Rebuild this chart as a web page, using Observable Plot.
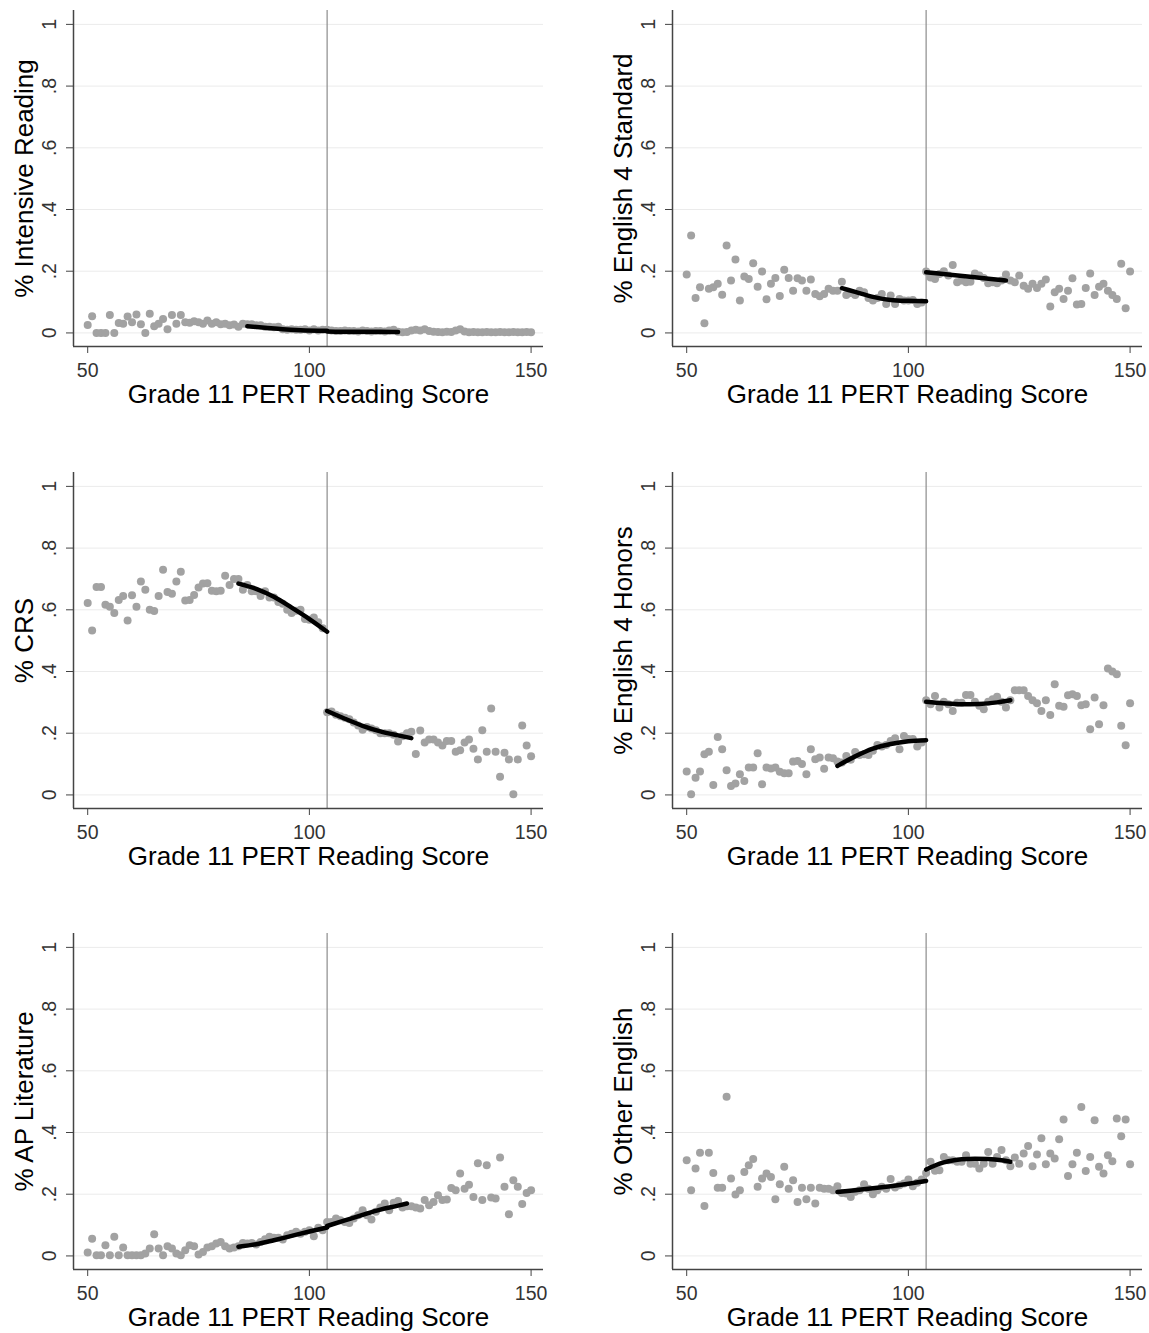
<!DOCTYPE html>
<html><head><meta charset="utf-8">
<script src="https://cdn.jsdelivr.net/npm/d3@7"></script>
<script src="https://cdn.jsdelivr.net/npm/@observablehq/plot@0.6"></script>
<style>
body{margin:0;background:#fff;}
#wrap{position:relative;width:1149px;height:1333px;overflow:hidden;background:#fff;}
#wrap svg{position:absolute;}
</style></head><body><div id="wrap"></div>
<script>
const scores = [50,51,52,53,54,55,56,57,58,59,60,61,62,63,64,65,66,67,68,69,70,71,72,73,74,75,76,77,78,79,80,81,82,83,84,85,86,87,88,89,90,91,92,93,94,95,96,97,98,99,100,101,102,103,104,105,106,107,108,109,110,111,112,113,114,115,116,117,118,119,120,121,122,123,124,125,126,127,128,129,130,131,132,133,134,135,136,137,138,139,140,141,142,143,144,145,146,147,148,149,150];

const intensiveReading = [0.026,0.054,0,0,0,0.058,0,0.032,0.030,0.053,0.035,0.060,0.028,0.000,0.062,0.022,0.030,0.045,0.012,0.058,0.030,0.058,0.035,0.033,0.038,0.035,0.030,0.040,0.030,0.035,0.028,0.030,0.025,0.027,0.020,0.030,0.028,0.028,0.025,0.025,0.020,0.020,0.018,0.020,0.012,0.010,0.012,0.010,0.010,0.012,0.008,0.012,0.008,0.010,0.010,0.008,0.006,0.006,0.008,0.006,0.006,0.005,0.008,0.006,0.005,0.006,0.006,0.005,0.008,0.010,0.004,0.002,0.003,0.008,0.010,0.008,0.012,0.006,0.004,0.003,0.002,0.004,0.003,0.008,0.012,0.005,0.002,0.003,0.002,0.002,0.003,0.002,0.002,0.003,0.002,0.002,0.003,0.002,0.002,0.003,0.002];

const english4Standard = [.189,.316,.113,.148,.031,.143,.148,.159,.124,.283,.170,.238,.105,.183,.175,.226,.150,.199,.109,.159,.178,.120,.205,.178,.137,.177,.170,.137,.173,.126,.119,.126,.143,.137,.137,.166,.123,.129,.123,.137,.132,.113,.105,.113,.126,.094,.121,.094,.110,.105,.105,.107,.094,.099,.199,.180,.175,.191,.200,.186,.220,.164,.170,.164,.166,.193,.186,.178,.161,.164,.161,.170,.189,.170,.164,.186,.153,.143,.159,.146,.159,.173,.086,.132,.143,.110,.137,.177,.092,.094,.146,.193,.123,.150,.159,.137,.123,.110,.224,.080,.199];

const crs = [.622,.533,.674,.674,.616,.610,.590,.632,.645,.565,.647,.610,.692,.665,.600,.596,.645,.730,.658,.652,.692,.723,.630,.632,.648,.672,.685,.686,.662,.660,.662,.710,.680,.700,.700,.665,.680,.660,.660,.645,.660,.640,.640,.625,.620,.600,.590,.597,.600,.570,.568,.575,.560,.540,.268,.270,.260,.255,.250,.245,.235,.225,.211,.220,.215,.210,.200,.200,.200,.195,.173,.190,.200,.205,.133,.209,.170,.180,.180,.170,.160,.175,.175,.140,.145,.170,.180,.150,.115,.210,.140,.280,.140,.059,.137,.115,.002,.115,.225,.160,.125];

const english4Honors = [.076,.002,.056,.076,.132,.140,.032,.188,.148,.080,.029,.037,.067,.045,.089,.089,.135,.035,.089,.086,.089,.075,.070,.070,.108,.110,.100,.067,.148,.116,.121,.085,.121,.119,.108,.105,.126,.114,.139,.129,.132,.129,.143,.162,.157,.162,.175,.184,.148,.191,.181,.181,.157,.170,.307,.294,.321,.283,.302,.294,.272,.299,.299,.324,.324,.302,.289,.278,.302,.310,.318,.302,.283,.307,.339,.339,.339,.321,.307,.297,.272,.307,.259,.359,.289,.286,.323,.326,.321,.291,.294,.213,.316,.229,.291,.410,.400,.391,.224,.161,.297];

const apLiterature = [.011,.056,.002,.002,.035,.002,.062,.002,.027,.002,.002,.002,.002,.008,.024,.070,.024,.002,.031,.024,.008,.002,.018,.035,.031,.005,.013,.027,.031,.040,.045,.031,.024,.027,.031,.042,.040,.042,.037,.045,.054,.062,.059,.059,.053,.067,.072,.078,.072,.078,.083,.064,.091,.083,.110,.110,.121,.116,.110,.107,.121,.132,.148,.132,.118,.143,.157,.170,.148,.172,.178,.157,.161,.161,.157,.154,.181,.164,.175,.197,.181,.183,.220,.213,.267,.218,.231,.191,.300,.181,.294,.189,.186,.319,.224,.135,.245,.224,.168,.204,.213];

const otherEnglish = [.310,.213,.283,.334,.162,.334,.269,.221,.221,.516,.251,.199,.213,.272,.294,.314,.224,.251,.267,.256,.184,.232,.289,.218,.245,.175,.221,.184,.221,.170,.221,.218,.218,.213,.226,.204,.202,.191,.208,.213,.232,.218,.200,.213,.224,.218,.249,.222,.229,.235,.248,.226,.237,.248,.269,.305,.276,.278,.321,.310,.310,.305,.305,.326,.299,.299,.283,.299,.337,.299,.321,.343,.310,.291,.319,.299,.332,.356,.291,.329,.381,.297,.332,.316,.378,.442,.259,.297,.334,.483,.275,.321,.440,.289,.267,.326,.307,.445,.388,.442,.297];

// fitted local curves (left and right of the cutoff)
const intensiveFitLeftX = [86, 90, 94, 98, 104];
const intensiveFitLeftY = [0.022, 0.017, 0.012, 0.009, 0.007];
const intensiveFitRightX = [104, 110, 116, 120];
const intensiveFitRightY = [0.005, 0.004, 0.004, 0.003];

const standardFitLeftX = [85, 88, 92, 96, 100, 104];
const standardFitLeftY = [0.145, 0.133, 0.117, 0.107, 0.104, 0.103];
const standardFitRightX = [104, 110, 116, 122];
const standardFitRightY = [0.197, 0.188, 0.179, 0.170];

const crsFitLeftX = [84, 88, 92, 96, 100, 104];
const crsFitLeftY = [0.685, 0.668, 0.642, 0.607, 0.570, 0.529];
const crsFitRightX = [104, 108, 112, 116, 120, 123];
const crsFitRightY = [0.272, 0.247, 0.224, 0.206, 0.193, 0.184];

const honorsFitLeftX = [84, 88, 92, 96, 100, 104];
const honorsFitLeftY = [0.094, 0.125, 0.150, 0.165, 0.174, 0.177];
const honorsFitRightX = [104, 108, 112, 116, 120, 123];
const honorsFitRightY = [0.302, 0.297, 0.294, 0.295, 0.300, 0.307];

const apFitLeftX = [84, 88, 92, 96, 100, 104];
const apFitLeftY = [0.030, 0.038, 0.051, 0.065, 0.079, 0.092];
const apFitRightX = [104, 108, 112, 116, 120, 122];
const apFitRightY = [0.097, 0.115, 0.133, 0.150, 0.163, 0.170];

const otherFitLeftX = [84, 88, 92, 96, 100, 104];
const otherFitLeftY = [0.207, 0.213, 0.219, 0.226, 0.234, 0.243];
const otherFitRightX = [104, 106, 108, 110, 112, 115, 118, 121, 123];
const otherFitRightY = [0.280, 0.293, 0.303, 0.309, 0.313, 0.315, 0.314, 0.310, 0.305];

const cutoff = [104];
const xTicks = [50, 100, 150];
const xTickLabels = ["50", "100", "150"];
const yTicks = [0, 0.2, 0.4, 0.6, 0.8, 1];
const yTickLabels = ["0", ".2", ".4", ".6", ".8", "1"];
const xTitle = "Grade 11 PERT Reading Score";
const yTitles = ["% Intensive Reading", "% English 4 Standard", "% CRS", "% English 4 Honors", "% AP Literature", "% Other English"];

const xDomain = [46.8, 152.8];
const yDomain = [-0.044, 1.045];

const series = [intensiveReading, english4Standard, crs, english4Honors, apLiterature, otherEnglish];
const fits = [
  [intensiveFitLeftX, intensiveFitLeftY, intensiveFitRightX, intensiveFitRightY],
  [standardFitLeftX, standardFitLeftY, standardFitRightX, standardFitRightY],
  [crsFitLeftX, crsFitLeftY, crsFitRightX, crsFitRightY],
  [honorsFitLeftX, honorsFitLeftY, honorsFitRightX, honorsFitRightY],
  [apFitLeftX, apFitLeftY, apFitRightX, apFitRightY],
  [otherFitLeftX, otherFitLeftY, otherFitRightX, otherFitRightY]
];

const font = "'Liberation Sans', Arial, Helvetica, sans-serif";
const wrap = document.getElementById("wrap");
const lefts = [0, 599];
const tops = [0, 462, 923];

series.forEach((vals, k) => {
  const pts = scores.map((s, i) => ({x: s, y: vals[i]}));
  const [lx, ly, rx, ry] = fits[k];
  const fitL = lx.map((x, i) => ({x, y: ly[i]}));
  const fitR = rx.map((x, i) => ({x, y: ry[i]}));
  const svg = Plot.plot({
    width: 550, height: 410,
    marginLeft: 73, marginRight: 7, marginTop: 10, marginBottom: 64,
    x: {domain: xDomain},
    y: {domain: yDomain},
    style: {fontFamily: font, background: "transparent", overflow: "visible"},
    marks: [
      Plot.gridY(yTicks, {stroke: "#ebebeb", strokeOpacity: 1}),
      Plot.ruleX(cutoff, {stroke: "#8c8c8c", strokeWidth: 1.2}),
      Plot.dot(pts, {x: "x", y: "y", r: 4, fill: "#a2a2a2"}),
      Plot.line(fitL, {x: "x", y: "y", stroke: "#000", strokeWidth: 4.5, curve: "monotone-x"}),
      Plot.line(fitR, {x: "x", y: "y", stroke: "#000", strokeWidth: 4.5, curve: "monotone-x"}),
      Plot.ruleX([xDomain[0]], {stroke: "#444", strokeWidth: 1.5}),
      Plot.ruleY([yDomain[0]], {stroke: "#444", strokeWidth: 1.5}),
      Plot.axisX(xTicks, {tickSize: 7, tickPadding: 10, fontSize: 19.5, label: null, stroke: "#444", fill: "#333",
        tickFormat: d => xTickLabels[xTicks.indexOf(d)]}),
      Plot.axisY(yTicks, {tickSize: 7, tickRotate: -90, tickPadding: 11, fontSize: 19.5, label: null, stroke: "#444", fill: "#333",
        tickFormat: d => yTickLabels[yTicks.indexOf(d)]}),
      Plot.text([xTitle], {frameAnchor: "bottom", dy: 48, fontSize: 26, textAnchor: "middle", lineAnchor: "middle", fill: "#000"}),
      Plot.text([yTitles[k]], {frameAnchor: "left", dx: -48.5, rotate: -90, fontSize: 26, textAnchor: "middle", lineAnchor: "middle", fill: "#000"})
    ]
  });
  svg.style.left = lefts[k % 2] + "px";
  svg.style.top = tops[Math.floor(k / 2)] + "px";
  wrap.appendChild(svg);
});
</script></body></html>
